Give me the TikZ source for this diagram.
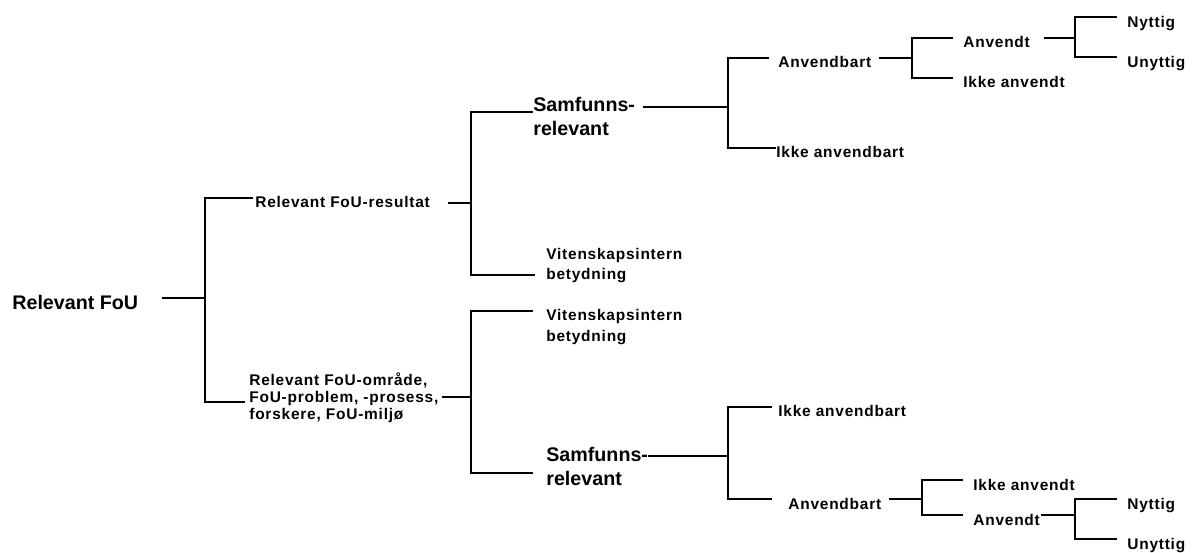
\documentclass[tikz,border=0pt]{standalone}
\usepackage{fontspec}
\setmainfont{Liberation Sans}
\newfontfamily\lblfont[LetterSpace=5]{Liberation Sans}

\tikzset{
  lbl/.style={font=\lblfont\bfseries\fontsize{8.8}{10}\selectfont, inner sep=0pt, anchor=base west, text height=11.9pt, text depth=0pt},
  big/.style={font=\bfseries\fontsize{11.2}{13}\selectfont, inner sep=0pt, anchor=base west, text height=13.6pt, text depth=0pt},
  tree/.style={line width=1.1pt}
}

\begin{document}
\begin{tikzpicture}[x=0.02cm, y=-0.02cm]
 \useasboundingbox (0,0) rectangle (1192,553);

 \node[big] (root) at (12,310) {Relevant FoU};
 \node[lbl] (resA) at (255,208) {Relevant FoU-resultat};
 \node[lbl] (fouB1) at (249,385) {Relevant FoU-område,};
 \node[lbl] (fouB2) at (249,402) {FoU-problem, -prosess,};
 \node[lbl] (fouB3) at (249,419) {forskere, FoU-miljø};
 \node[big] (samfA1) at (533,112) {Samfunns-};
 \node[big] (samfA2) at (533,136) {relevant};
 \node[lbl] (vitA1) at (546,260) {Vitenskapsintern};
 \node[lbl] (vitA2) at (546,280) {betydning};
 \node[lbl] (vitB1) at (546,321) {Vitenskapsintern};
 \node[lbl] (vitB2) at (546,342) {betydning};
 \node[big] (samfB1) at (546,461) {Samfunns-};
 \node[big] (samfB2) at (546,485) {relevant};
 \node[lbl] (anvbA) at (778,68) {Anvendbart};
 \node[lbl] (ikkebA) at (776,158) {Ikke anvendbart};
 \node[lbl] (anvtA) at (963,48) {Anvendt};
 \node[lbl] (ikketA) at (963,88) {Ikke anvendt};
 \node[lbl] (nytA) at (1127,27.5) {Nyttig};
 \node[lbl] (unyA) at (1127,67.5) {Unyttig};
 \node[lbl] (ikkebB) at (778,417) {Ikke anvendbart};
 \node[lbl] (anvbB) at (788,509) {Anvendbart};
 \node[lbl] (ikketB) at (973,490) {Ikke anvendt};
 \node[lbl] (anvtB) at (973,525) {Anvendt};
 \node[lbl] (nytB) at (1127,509.5) {Nyttig};
 \node[lbl] (unyB) at (1127,549.5) {Unyttig};

 \coordinate (j1) at (205,300);
 \coordinate (j2) at (471,204);
 \coordinate (j3) at (471,400);
 \coordinate (j4) at (728,109);
 \coordinate (j5) at (728,457);
 \coordinate (j6) at (912,57);
 \coordinate (j7) at (922,497);
 \coordinate (j8) at (1075,37);
 \coordinate (j9) at (1075,517);

 \draw[tree, shorten <=13.6pt] (root.east) -| (j1);
 \draw[tree, shorten >=1.1pt] (j1) |- (resA.west);
 \draw[tree, shorten >=2.3pt] (j1) |- (fouB2.base west);

 \draw[tree, shorten <=10.2pt] (resA.mid east) -| (j2);
 \draw[tree] (j2) |- (samfA1.base west);
 \draw[tree, shorten >=6.2pt] (j2) |- (vitA2.mid west);
 \draw[tree, shorten <=1.7pt] (fouB2.mid east) -| (j3);
 \draw[tree, shorten >=7.4pt] (j3) |- (vitB1.west);
 \draw[tree, shorten >=7.4pt] (j3) |- (samfB2.west);

 \draw[tree, shorten <=4.5pt] (samfA1.mid east) -| (j4);
 \draw[tree, shorten >=5.1pt] (j4) |- (anvbA.west);
 \draw[tree] (j4) |- (ikkebA.west);
 \draw[tree] (samfB1.mid east) -| (j5);
 \draw[tree, shorten >=3.4pt] (j5) |- (ikkebB.west);
 \draw[tree, shorten >=9.1pt] (j5) |- (anvbB.west);

 \draw[tree, shorten <=4.5pt] (anvbA.east) -| (j6);
 \draw[tree, shorten >=5.7pt] (j6) |- (anvtA.west);
 \draw[tree, shorten >=5.7pt] (j6) |- (ikketA.west);
 \draw[tree, shorten <=4.5pt] (anvbB.east) -| (j7);
 \draw[tree, shorten >=5.7pt] (j7) |- (ikketB.west);
 \draw[tree, shorten >=5.7pt] (j7) |- (anvtB.west);

 \draw[tree, shorten <=7.9pt] (anvtA.east) -| (j8);
 \draw[tree, shorten >=5.7pt] (j8) |- (nytA.west);
 \draw[tree, shorten >=5.7pt] (j8) |- (unyA.west);
 \draw[tree, shorten <=0.5pt] (anvtB.east) -| (j9);
 \draw[tree, shorten >=5.7pt] (j9) |- (nytB.west);
 \draw[tree, shorten >=5.7pt] (j9) |- (unyB.west);
\end{tikzpicture}
\end{document}
